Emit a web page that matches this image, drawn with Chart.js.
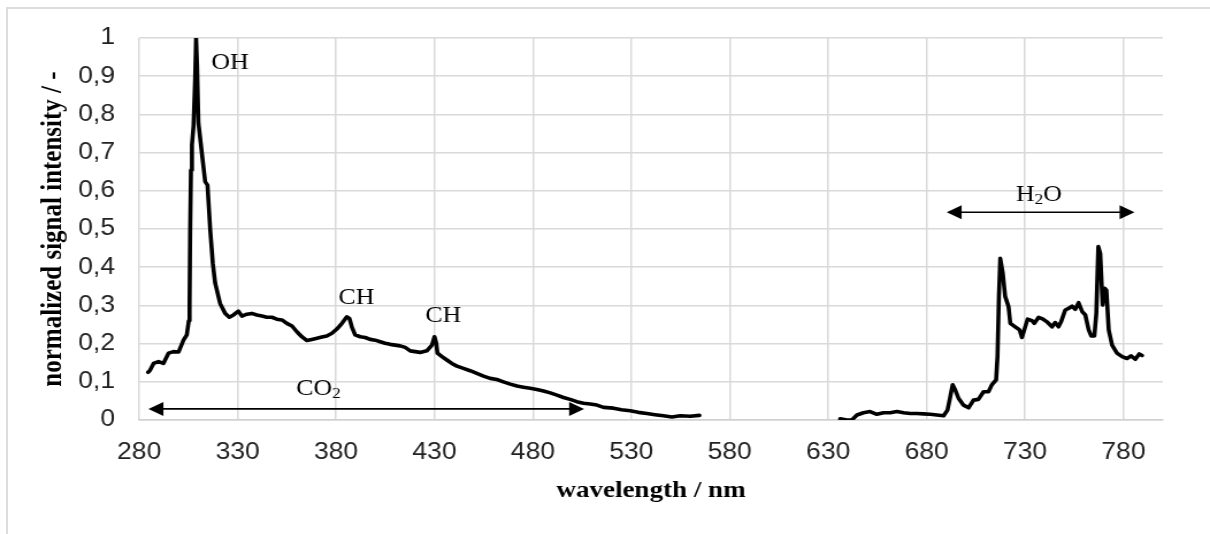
<!DOCTYPE html>
<html lang="en">
<head>
<meta charset="UTF-8" />
<title>Flame emission spectrum</title>
<script src="https://cdn.jsdelivr.net/npm/chart.js@4"></script>
<style>
  html, body { margin: 0; padding: 0; background: #fff; overflow: hidden; }
  body { width: 1210px; height: 534px; position: relative; }
  #frame {
    position: absolute; left: 6px; top: 7px; width: 1300px; height: 700px;
    border: 2px solid #dcdcdc; box-sizing: border-box;
  }
  /* the source picture is stretched sideways, so draw narrow and widen */
  #wrap {
    position: absolute; left: 0; top: 0; width: 1052px; height: 534px;
    transform: scaleX(1.1502); transform-origin: 0 0;
  }
</style>
</head>
<body>
<div id="frame"></div>
<div id="wrap"><canvas id="spectrum" width="1052" height="534"></canvas></div>

<script>
  // axis ticks
  const xTickValues = [280, 330, 380, 430, 480, 530, 580, 630, 680, 730, 780];
  const yTickValues = [0, 0.1, 0.2, 0.3, 0.4, 0.5, 0.6, 0.7, 0.8, 0.9, 1];

  // spectrum (null = gap between the two detector ranges)
  const wavelength = [
    284.5, 285.5, 287.3, 289.8, 292.3, 294.9, 297.4, 300.0, 302.5, 304.2,
    305.2, 305.6, 305.9, 306.3, 306.8, 307.6, 308.4, 308.9, 309.4, 310.1,
    313.5, 314.7, 316.1, 317.4, 318.6, 321.1, 323.7, 325.8, 327.9, 330.4,
    332.2, 334.7, 337.2, 339.8, 342.3, 344.9, 347.4, 349.9, 352.5, 355.0,
    357.6, 360.1, 362.6, 365.2, 367.7, 370.3, 372.8, 375.3, 377.9, 380.4,
    383.0, 385.5, 386.8, 388.0, 389.7, 392.3, 394.8, 397.3, 399.9, 402.4,
    404.9, 407.5, 410.0, 412.6, 415.1, 417.7, 420.2, 422.7, 426.1, 428.7,
    430.0, 430.9, 431.5, 433.8, 436.3, 438.8, 441.4, 444.7, 448.1, 451.5,
    454.9, 458.3, 461.7, 465.0, 468.5, 471.9, 475.2, 478.6, 482.0, 485.4,
    488.8, 492.2, 495.5, 498.9, 502.3, 505.7, 509.1, 512.5, 515.9, 520.9,
    525.0, 529.4, 533.5, 537.9, 542.0, 546.3, 550.6, 554.8, 559.9, 564.6,
    600,
    636.1, 639.5, 642.0, 644.6, 647.9, 651.3, 654.7, 658.1, 661.5, 664.9,
    668.3, 671.7, 675.0, 678.4, 681.8, 685.2, 688.6, 690.6, 692.0, 693.2,
    694.5, 696.2, 698.7, 701.3, 703.8, 706.3, 708.9, 711.4, 713.1, 715.3,
    716.0, 716.7, 717.4, 718.7, 719.9, 721.6, 722.5, 725.0, 727.2, 728.4,
    730.1, 731.3, 733.5, 734.7, 736.9, 739.1, 741.1, 743.7, 745.3, 747.0,
    748.3, 750.4, 752.1, 753.9, 755.5, 757.2, 759.0, 760.6, 762.3, 763.6,
    765.2, 766.2, 767.2, 768.2, 769.4, 770.4, 771.3, 772.5, 774.2, 776.7,
    779.3, 781.8, 783.8, 786.0, 788.0, 789.4
  ];
  const intensity = [
    0.125, 0.130, 0.148, 0.153, 0.148, 0.175, 0.179, 0.178, 0.209, 0.223,
    0.260, 0.300, 0.497, 0.654, 0.720, 0.770, 0.890, 1.000, 0.930, 0.777,
    0.624, 0.615, 0.497, 0.410, 0.358, 0.305, 0.279, 0.269, 0.275, 0.285,
    0.272, 0.277, 0.279, 0.275, 0.272, 0.269, 0.269, 0.264, 0.262, 0.253,
    0.246, 0.231, 0.218, 0.208, 0.211, 0.214, 0.217, 0.220, 0.227, 0.238,
    0.253, 0.270, 0.266, 0.244, 0.223, 0.218, 0.216, 0.211, 0.209, 0.205,
    0.201, 0.198, 0.196, 0.194, 0.190, 0.181, 0.179, 0.177, 0.181, 0.196,
    0.218, 0.201, 0.175, 0.166, 0.157, 0.148, 0.141, 0.135, 0.129, 0.122,
    0.115, 0.109, 0.106, 0.100, 0.094, 0.089, 0.086, 0.083, 0.080, 0.076,
    0.071, 0.065, 0.059, 0.054, 0.048, 0.044, 0.042, 0.039, 0.033, 0.031,
    0.027, 0.024, 0.020, 0.017, 0.014, 0.011, 0.008, 0.011, 0.010, 0.012,
    null,
    0.003, 0.000, 0.000, 0.013, 0.019, 0.022, 0.015, 0.019, 0.019, 0.022,
    0.019, 0.017, 0.017, 0.016, 0.015, 0.013, 0.011, 0.026, 0.061, 0.092,
    0.079, 0.057, 0.039, 0.032, 0.052, 0.054, 0.074, 0.074, 0.092, 0.105,
    0.166, 0.323, 0.423, 0.384, 0.323, 0.297, 0.253, 0.244, 0.236, 0.216,
    0.244, 0.264, 0.260, 0.253, 0.269, 0.264, 0.257, 0.244, 0.255, 0.244,
    0.257, 0.288, 0.292, 0.298, 0.290, 0.307, 0.284, 0.275, 0.236, 0.220,
    0.220, 0.279, 0.454, 0.436, 0.301, 0.345, 0.340, 0.236, 0.196, 0.175,
    0.166, 0.161, 0.168, 0.159, 0.173, 0.169
  ];

  // band labels and arrows, anchored in data units
  const bandLabels = [
    { parts: [['OH', false]], x: 316.6, y: 0.918 },
    { parts: [['CH', false]], x: 381.2, y: 0.304 },
    { parts: [['CH', false]], x: 425.3, y: 0.257 },
    { parts: [['CO', false], ['2', true]], x: 359.8, y: 0.065 },
    { parts: [['H', false], ['2', true], ['O', false]], x: 725.3, y: 0.573 }
  ];
  const bandArrows = [
    { from: 284.7, to: 506.0, at: 0.029 },
    { from: 690.2, to: 785.6, at: 0.544 }
  ];

  const serif = '"Liberation Serif", "Times New Roman", serif';
  const sans = '"Liberation Sans", Arial, sans-serif';

  const bandPlugin = {
    id: 'bands',
    afterDatasetsDraw(chart) {
      const { ctx, scales: { x, y } } = chart;
      ctx.save();
      ctx.fillStyle = '#000';
      ctx.strokeStyle = '#000';

      // double-headed arrows
      const head = 13, half = 7;
      bandArrows.forEach(a => {
        const x1 = x.getPixelForValue(a.from);
        const x2 = x.getPixelForValue(a.to);
        const py = y.getPixelForValue(a.at);
        ctx.lineWidth = 1.6;
        ctx.beginPath();
        ctx.moveTo(x1 + head - 1, py);
        ctx.lineTo(x2 - head + 1, py);
        ctx.stroke();
        ctx.beginPath();
        ctx.moveTo(x1, py);
        ctx.lineTo(x1 + head, py - half);
        ctx.lineTo(x1 + head, py + half);
        ctx.closePath();
        ctx.fill();
        ctx.beginPath();
        ctx.moveTo(x2, py);
        ctx.lineTo(x2 - head, py - half);
        ctx.lineTo(x2 - head, py + half);
        ctx.closePath();
        ctx.fill();
      });

      // labels, with subscripts
      ctx.textBaseline = 'alphabetic';
      ctx.textAlign = 'left';
      bandLabels.forEach(l => {
        let px = x.getPixelForValue(l.x);
        const py = y.getPixelForValue(l.y);
        l.parts.forEach(([txt, sub]) => {
          ctx.font = (sub ? '15px ' : '22.5px ') + serif;
          ctx.fillText(txt, px, sub ? py + 3 : py);
          px += ctx.measureText(txt).width;
        });
      });
      ctx.restore();
    }
  };

  const points = wavelength.map((w, i) => ({ x: w, y: intensity[i] }));

  new Chart(document.getElementById('spectrum'), {
    type: 'line',
    data: {
      datasets: [{
        data: points,
        borderColor: '#000',
        borderWidth: 3.6,
        borderJoinStyle: 'round',
        borderCapStyle: 'round',
        pointRadius: 0,
        tension: 0,
        spanGaps: false,
        fill: false
      }]
    },
    options: {
      responsive: false,
      devicePixelRatio: 1,
      animation: false,
      layout: { padding: { top: 38, right: 41, bottom: 0, left: 0 } },
      plugins: {
        legend: { display: false },
        tooltip: { enabled: false }
      },
      scales: {
        x: {
          type: 'linear',
          min: 280,
          max: 800,
          afterBuildTicks: s => { s.ticks = xTickValues.map(v => ({ value: v })); },
          afterFit: s => { s.height = 114; },
          grid: { color: '#d9d9d9', lineWidth: 1.5, drawTicks: false },
          border: { display: true, color: '#d0d0d0', width: 1.5 },
          ticks: {
            color: '#222',
            font: { family: sans, size: 23 },
            padding: 19,
            maxRotation: 0,
            callback: v => String(v)
          },
          title: {
            display: true,
            text: 'wavelength / nm',
            color: '#000',
            font: { family: serif, size: 23.5, weight: 'bold' },
            padding: { top: 0, bottom: 29 }
          }
        },
        y: {
          min: 0,
          max: 1,
          afterBuildTicks: s => { s.ticks = yTickValues.map(v => ({ value: v })); },
          afterFit: s => { s.width = 121; },
          grid: { color: '#d9d9d9', lineWidth: 1.5, drawTicks: false },
          border: { display: false },
          ticks: {
            color: '#222',
            font: { family: sans, size: 23 },
            padding: 21,
            callback: v => String(Math.round(v * 10) / 10).replace('.', ',')
          },
          title: {
            display: true,
            text: 'normalized signal intensity / -',
            color: '#000',
            font: { family: serif, size: 25, weight: 'bold' },
            padding: { top: 32, bottom: 0 }
          }
        }
      }
    },
    plugins: [bandPlugin]
  });
</script>
</body>
</html>
